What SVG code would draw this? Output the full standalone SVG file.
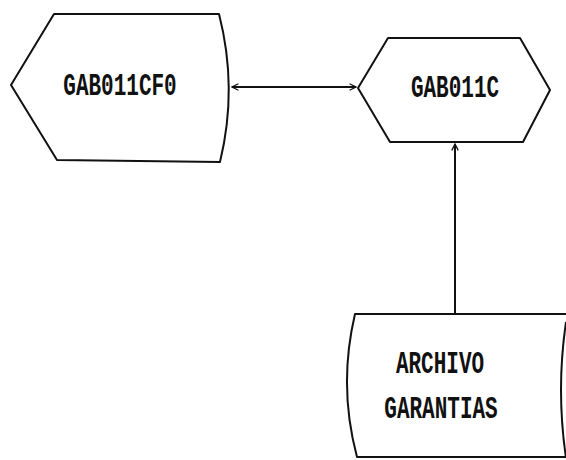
<svg xmlns="http://www.w3.org/2000/svg" width="566" height="460" viewBox="0 0 566 460">
  <defs>
    <style>
      .shape { fill: #ffffff; stroke: #111111; stroke-width: 2; stroke-linejoin: round; }
      .edge { fill: none; stroke: #111111; stroke-width: 2; }
      .label { font-family: "Liberation Mono", "Courier New", monospace; font-weight: bold; font-size: 21px; fill: #111111; text-anchor: middle; }
    </style>
    <marker id="chev" viewBox="0 0 10 10" refX="9" refY="5" markerWidth="8" markerHeight="8" markerUnits="userSpaceOnUse" orient="auto-start-reverse">
      <path d="M1,1 L9,5 L1,9" fill="none" stroke="#111111" stroke-width="1.6"/>
    </marker>
  </defs>
  <rect width="566" height="460" fill="#ffffff"/>

  <!-- connectors -->
  <g id="connectors">
    <line class="edge" x1="232" y1="87" x2="356" y2="87" marker-start="url(#chev)" marker-end="url(#chev)"/>
    <line class="edge" x1="455" y1="313" x2="455" y2="144" marker-end="url(#chev)"/>
  </g>

  <!-- process GAB011CF0 -->
  <g id="node-gab011cf0">
    <path class="shape" d="M54,14 L219,14 Q238,88 220,162 L57,160 L11,85 Z"/>
    <text class="label" transform="translate(120,95) scale(1,1.45)">GAB011CF0</text>
  </g>

  <!-- process GAB011C -->
  <g id="node-gab011c">
    <path class="shape" d="M388,38 L520,38 L550,90 L523,142 L390,142 L358,88 Z"/>
    <text class="label" transform="translate(455,97) scale(1,1.45)">GAB011C</text>
  </g>

  <!-- stored data ARCHIVO GARANTIAS -->
  <g id="node-archivo">
    <path class="shape" d="M566,314 L355,314 Q338,386 357,457 L566,457"/>
    <path class="edge" d="M566,322 Q556,390 566,458"/>
    <text class="label" transform="translate(440,373) scale(1,1.45)">ARCHIVO</text>
    <text class="label" transform="translate(441,418) scale(1,1.45)">GARANTIAS</text>
  </g>
</svg>
